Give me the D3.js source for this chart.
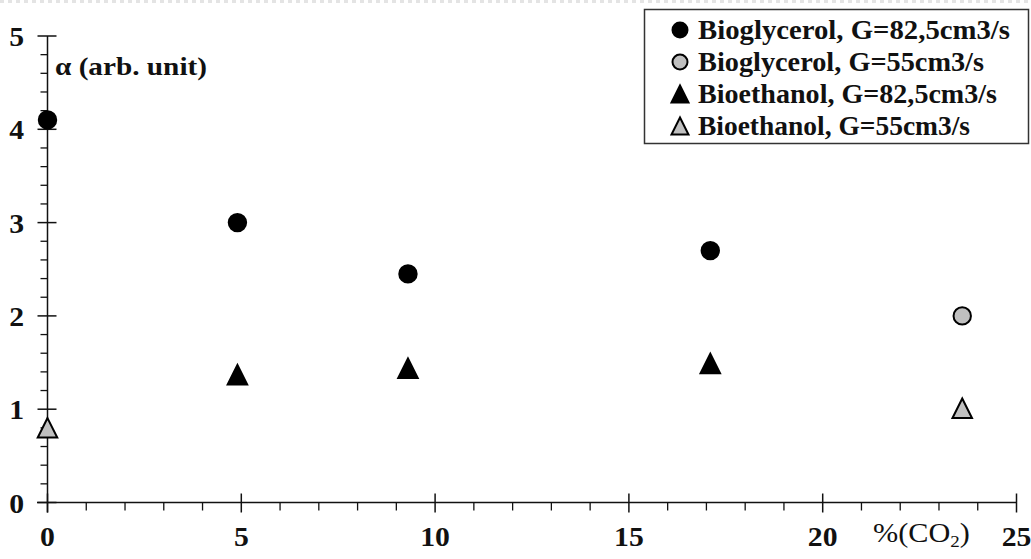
<!DOCTYPE html>
<html>
<head>
<meta charset="utf-8">
<script src="https://cdn.jsdelivr.net/npm/d3@7"></script>
<style>
  body { margin: 0; background: #fff; }
  svg { display: block; font-family: "Liberation Serif", "Times New Roman", serif; }
</style>
</head>
<body>
<svg id="chart" width="1031" height="559"></svg>
<script>
// data
const glycerolHigh = [[0, 4.1], [4.9, 3.0], [9.3, 2.45], [17.1, 2.7]];
const glycerolLow = [[23.6, 2.0]];
const ethanolHigh = [[4.9, 1.37], [9.3, 1.44], [17.1, 1.49]];
const ethanolLow = [[0, 0.8], [23.6, 1.01]];
const xTicks = [0, 5, 10, 15, 20, 25];
const yTicks = [0, 1, 2, 3, 4, 5];
const legendLabels = [
  'Bioglycerol, G=82,5cm3/s',
  'Bioglycerol, G=55cm3/s',
  'Bioethanol, G=82,5cm3/s',
  'Bioethanol, G=55cm3/s'
];

const svg = d3.select('#chart');
const x = d3.scaleLinear().domain([0, 25]).range([47.5, 1016.5]);
const y = d3.scaleLinear().domain([0, 5]).range([502.5, 36]);

// faint dotted border on top
svg.append('line')
  .attr('x1', 0).attr('x2', 1031).attr('y1', 1.5).attr('y2', 1.5)
  .attr('stroke', '#e4e4e4').attr('stroke-width', 3).attr('stroke-dasharray', '4,4');

const ink = '#111';

// x axis
const gx = svg.append('g');
gx.append('line')
  .attr('x1', 37).attr('x2', x(25)).attr('y1', y(0)).attr('y2', y(0))
  .attr('stroke', ink).attr('stroke-width', 1.5);
gx.selectAll('line.minor')
  .data(d3.range(0, 26, 1).filter((d) => d % 5 !== 0))
  .join('line')
  .attr('class', 'minor')
  .attr('x1', (d) => x(d)).attr('x2', (d) => x(d))
  .attr('y1', y(0)).attr('y2', y(0) + 8)
  .attr('stroke', ink).attr('stroke-width', 1.3);
gx.selectAll('line.major')
  .data(xTicks)
  .join('line')
  .attr('class', 'major')
  .attr('x1', (d) => x(d)).attr('x2', (d) => x(d))
  .attr('y1', y(0) - 9).attr('y2', y(0) + 10)
  .attr('stroke', ink).attr('stroke-width', 1.5);
gx.selectAll('text')
  .data(xTicks)
  .join('text')
  .attr('transform', (d) => `translate(${x(d)},546) scale(1.1,1)`)
  .attr('text-anchor', 'middle')
  .style('font-size', '27px')
  .style('font-weight', 'bold')
  .attr('fill', ink)
  .text((d) => d);

// y axis
const gy = svg.append('g');
gy.append('line')
  .attr('x1', x(0)).attr('x2', x(0)).attr('y1', y(0) + 10).attr('y2', y(5))
  .attr('stroke', ink).attr('stroke-width', 1.5);
gy.selectAll('line.minor')
  .data(d3.range(0, 5.01, 0.2).filter((d) => Math.abs(d - Math.round(d)) > 0.01))
  .join('line')
  .attr('class', 'minor')
  .attr('x1', x(0) - 7).attr('x2', x(0))
  .attr('y1', (d) => y(d)).attr('y2', (d) => y(d))
  .attr('stroke', ink).attr('stroke-width', 1.3);
gy.selectAll('line.major')
  .data(yTicks)
  .join('line')
  .attr('class', 'major')
  .attr('x1', x(0) - 10).attr('x2', x(0) + 9)
  .attr('y1', (d) => y(d)).attr('y2', (d) => y(d))
  .attr('stroke', ink).attr('stroke-width', 1.5);
gy.selectAll('text')
  .data(yTicks)
  .join('text')
  .attr('transform', (d) => `translate(24,${y(d) + 10}) scale(1.1,1)`)
  .attr('text-anchor', 'end')
  .style('font-size', '27px')
  .style('font-weight', 'bold')
  .attr('fill', ink)
  .text((d) => d);

// axis titles
svg.append('text')
  .attr('x', 55).attr('y', 75)
  .attr('textLength', 152).attr('lengthAdjust', 'spacingAndGlyphs')
  .style('font-size', '26px').style('font-weight', 'bold')
  .attr('fill', ink)
  .text('α (arb. unit)');
const xt = svg.append('text')
  .attr('transform', 'translate(873,542) scale(1.12,1)')
  .style('font-size', '27px')
  .attr('fill', ink);
xt.append('tspan').text('%(CO');
xt.append('tspan').attr('dy', 5).style('font-size', '17px').text('2');
xt.append('tspan').attr('dy', -5).text(')');

// markers: triangle as tall as it is wide, centred on its box
const boxTriangle = {
  draw(ctx, size) {
    const h = size / 2;
    ctx.moveTo(0, -h);
    ctx.lineTo(h, h);
    ctx.lineTo(-h, h);
    ctx.closePath();
  }
};
const triangle = d3.symbol().type(boxTriangle).size(19.5);
function circles(data, fill) {
  svg.append('g').selectAll('circle')
    .data(data)
    .join('circle')
    .attr('cx', (d) => x(d[0]))
    .attr('cy', (d) => y(d[1]))
    .attr('r', 8.7)
    .attr('fill', fill)
    .attr('stroke', '#000')
    .attr('stroke-width', 2);
}
function triangles(data, fill) {
  svg.append('g').selectAll('path')
    .data(data)
    .join('path')
    .attr('d', triangle)
    .attr('transform', (d) => `translate(${x(d[0])},${y(d[1])})`)
    .attr('fill', fill)
    .attr('stroke', '#000')
    .attr('stroke-width', 2)
    .attr('stroke-linejoin', 'miter');
}
circles(glycerolHigh, '#000');
circles(glycerolLow, '#c0c0c0');
triangles(ethanolHigh, '#000');
triangles(ethanolLow, '#c0c0c0');

// legend
const lg = svg.append('g');
lg.append('rect')
  .attr('x', 644.5).attr('y', 9.5).attr('width', 384).attr('height', 134)
  .attr('fill', '#fff').attr('stroke', '#333').attr('stroke-width', 1.5);
const legendFill = ['#000', '#c0c0c0', '#000', '#c0c0c0'];
const legendShape = ['circle', 'circle', 'tri', 'tri'];
const legendWidth = [312, 286, 299, 272];
const rowY = (i) => 30 + i * 32;
legendLabels.forEach((label, i) => {
  if (legendShape[i] === 'circle') {
    lg.append('circle')
      .attr('cx', 680).attr('cy', rowY(i))
      .attr('r', 7.5)
      .attr('fill', legendFill[i]).attr('stroke', '#000').attr('stroke-width', 2);
  } else {
    lg.append('path')
      .attr('d', d3.symbol().type(boxTriangle).size(17)())
      .attr('transform', `translate(680,${rowY(i)})`)
      .attr('fill', legendFill[i]).attr('stroke', '#000').attr('stroke-width', 2);
  }
  lg.append('text')
    .attr('x', 698).attr('y', rowY(i) + 8.5)
    .attr('textLength', legendWidth[i]).attr('lengthAdjust', 'spacingAndGlyphs')
    .style('font-size', '27px').style('font-weight', 'bold')
    .attr('fill', ink)
    .text(label);
});
</script>
</body>
</html>
